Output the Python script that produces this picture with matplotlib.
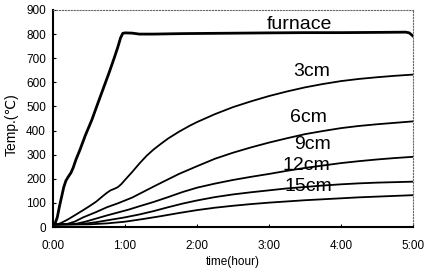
import numpy as np
import matplotlib
matplotlib.use("Agg")
import matplotlib.pyplot as plt

plt.rcParams["font.family"] = ["Liberation Sans", "DejaVu Sans"]

# time in hours, temperature in degC
furnace_t = [0, 0.03, 0.06, 0.09, 0.12, 0.15, 0.18, 0.21, 0.25, 0.28, 0.32, 0.375, 0.45,
             0.54, 0.62, 0.7, 0.78, 0.85, 0.9, 0.94, 0.97, 1.0, 1.1, 1.2, 1.4, 1.8, 2.2,
             2.6, 3.0, 3.5, 4.0, 4.5, 4.9, 4.95, 5.0]
furnace_T = [10, 15, 40, 85, 125, 165, 192, 207, 225, 245, 280, 320, 380,
             444, 510, 575, 640, 700, 745, 785, 803, 805, 804, 800, 800, 802, 803,
             804, 805, 806, 806, 807, 808, 805, 792]

t_3cm = [0, 0.05, 0.1, 0.2, 0.3, 0.42, 0.5, 0.6, 0.7, 0.75, 0.8, 0.85, 0.9, 0.95, 1.0,
         1.1, 1.2, 1.3, 1.4, 1.5, 1.6, 1.75, 1.9, 2.0, 2.25, 2.5, 2.75, 3.0, 3.25, 3.5,
         3.75, 4.0, 4.25, 4.5, 4.75, 5.0]
T_3cm = [10, 11, 15, 30, 48, 70, 85, 105, 130, 142, 152, 158, 165, 178, 195,
         228, 263, 295, 322, 345, 367, 395, 420, 435, 468, 497, 521, 543, 562, 579,
         593, 605, 614, 621, 627, 632]

t_6cm = [0, 0.2, 0.3, 0.42, 0.6, 0.75, 0.9, 1.0, 1.1, 1.25, 1.4, 1.5, 1.75, 2.0, 2.25,
         2.5, 2.75, 3.0, 3.25, 3.5, 3.75, 4.0, 4.25, 4.5, 4.75, 5.0]
T_6cm = [10, 13, 22, 40, 62, 82, 98, 110, 122, 145, 168, 183, 220, 252, 283,
         308, 330, 350, 368, 385, 398, 410, 419, 426, 432, 438]

t_9cm = [0, 0.3, 0.45, 0.6, 0.75, 0.9, 1.05, 1.2, 1.4, 1.6, 1.8, 2.0, 2.25, 2.5, 2.75,
         3.0, 3.25, 3.5, 3.75, 4.0, 4.25, 4.5, 4.75, 5.0]
T_9cm = [10, 12, 22, 35, 48, 60, 72, 86, 104, 124, 145, 163, 180, 195, 208,
         220, 233, 245, 255, 265, 273, 280, 286, 291]

t_12cm = [0, 0.4, 0.6, 0.8, 1.0, 1.2, 1.4, 1.6, 1.8, 2.0, 2.25, 2.5, 2.75, 3.0, 3.25,
          3.5, 3.75, 4.0, 4.25, 4.5, 4.75, 5.0]
T_12cm = [10, 12, 20, 30, 40, 52, 66, 82, 97, 110, 124, 135, 144, 152, 160,
          166, 172, 177, 181, 184, 186, 188]

t_15cm = [0, 0.5, 0.75, 1.0, 1.25, 1.5, 1.75, 2.0, 2.25, 2.5, 2.75, 3.0, 3.25, 3.5,
          3.75, 4.0, 4.25, 4.5, 4.75, 5.0]
T_15cm = [10, 11, 15, 22, 33, 45, 58, 70, 80, 88, 95, 101, 106, 111,
          115, 119, 123, 126, 129, 132]

series = [
    ("furnace", furnace_t, furnace_T, 2.0),
    ("3cm", t_3cm, T_3cm, 1.3),
    ("6cm", t_6cm, T_6cm, 1.3),
    ("9cm", t_9cm, T_9cm, 1.3),
    ("12cm", t_12cm, T_12cm, 1.3),
    ("15cm", t_15cm, T_15cm, 1.3),
]

# label centres (hour, degC)
label_pos = {
    "furnace": (3.42, 840),
    "3cm": (3.6, 643),
    "6cm": (3.55, 455),
    "9cm": (3.6, 344),
    "12cm": (3.52, 257),
    "15cm": (3.55, 166),
}

fig = plt.figure(figsize=(4.27, 2.77), dpi=100)
ax = fig.add_axes([0.124, 0.1805, 0.843, 0.7835])

for name, t, T, lw in series:
    ax.plot(t, T, color="black", lw=lw, solid_joinstyle="round")
    x, y = label_pos[name]
    ax.text(x, y, name, fontsize=14, ha="center", va="center")

ax.set_xlim(0, 5)
ax.set_ylim(0, 900)
ax.set_xticks([0, 1, 2, 3, 4, 5])
ax.set_xticklabels(["0:00", "1:00", "2:00", "3:00", "4:00", "5:00"])
ax.set_yticks(range(0, 901, 100))
ax.tick_params(labelsize=8.5, length=2, direction="in", pad=5)
ax.tick_params(axis="x", pad=9)

for side in ["top", "right"]:
    ax.spines[side].set_linestyle(":")
    ax.spines[side].set_color("0.4")
    ax.spines[side].set_linewidth(0.8)
for side in ["left", "bottom"]:
    ax.spines[side].set_linewidth(1.5)

ax.set_xlabel("time(hour)", fontsize=8.5, labelpad=3)
ax.set_ylabel("Temp.(℃)", fontsize=10)
ax.yaxis.set_label_coords(-0.095, 0.47)

fig.savefig("out.png", dpi=100)
